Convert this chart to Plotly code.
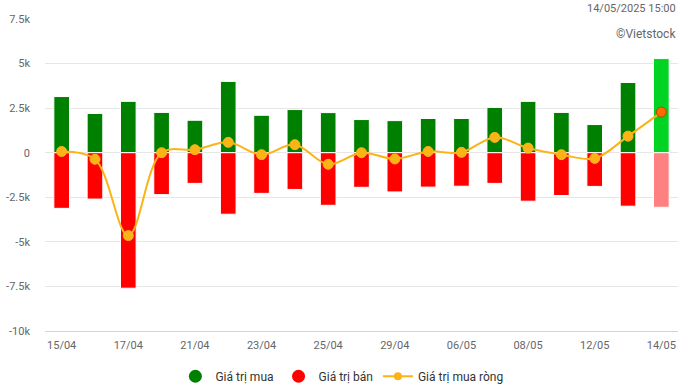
import plotly.graph_objects as go

dates = ["15/04", "16/04", "17/04", "18/04", "21/04", "22/04", "23/04", "24/04", "25/04",
         "28/04", "29/04", "05/05", "06/05", "07/05", "08/05", "09/05", "12/05", "13/05", "14/05"]
buy = [3150, 2200, 2880, 2260, 1820, 4000, 2100, 2420, 2250,
       1860, 1800, 1920, 1920, 2540, 2880, 2260, 1580, 3940, 5280]
sell = [-3120, -2600, -7600, -2350, -1720, -3450, -2280, -2060, -2950,
        -1940, -2200, -1930, -1880, -1720, -2720, -2400, -1890, -3000, -3060]
net = [70, -370, -4650, 0, 170, 580, -110, 450, -650,
       0, -350, 70, 20, 860, 260, -110, -320, 930, 2280]
ytick_vals = [7500, 5000, 2500, 0, -2500, -5000, -7500, -10000]
ytick_text = ["7.5k", "5k", "2.5k", "0", "-2.5k", "-5k", "-7.5k", "-10k"]
xtick_labels = dates[::2]

n = len(dates)
buy_colors = ["#008000"] * (n - 1) + ["#00d322"]
sell_colors = ["#ff0000"] * (n - 1) + ["#ff8080"]
net_colors = ["#fbb417"] * (n - 1) + ["#ff6a00"]
net_line_colors = ["#fbb417"] * (n - 1) + ["#b34a00"]

fig = go.Figure()
fig.add_trace(go.Bar(x=dates, y=buy, name="Giá trị mua", marker=dict(color=buy_colors, line=dict(color="white", width=1)),
                     width=0.47, showlegend=False))
fig.add_trace(go.Bar(x=dates, y=sell, name="Giá trị bán", marker=dict(color=sell_colors, line=dict(color="white", width=1)),
                     width=0.47, showlegend=False))
fig.add_trace(go.Scatter(x=dates, y=net, name="Giá trị mua ròng", mode="lines+markers",
                         line=dict(color="#fbb417", width=2, shape="spline", smoothing=1),
                         marker=dict(size=10, color=net_colors, line=dict(color=net_line_colors, width=1)),
                         showlegend=False))
# legend entries
fig.add_trace(go.Scatter(x=[None], y=[None], mode="markers", name="Giá trị mua",
                         marker=dict(size=13, color="#008000")))
fig.add_trace(go.Scatter(x=[None], y=[None], mode="markers", name="Giá trị bán",
                         marker=dict(size=13, color="#ff0000")))
fig.add_trace(go.Scatter(x=[None], y=[None], mode="lines+markers", name="Giá trị mua ròng",
                         line=dict(color="#fbb417", width=2), marker=dict(size=8, color="#fbb417")))

fig.update_layout(
    width=684, height=390,
    margin=dict(l=45, r=6, t=19, b=59, autoexpand=False),
    barmode="relative",
    plot_bgcolor="white", paper_bgcolor="white",
    font=dict(family="Roboto", color="#666666", size=11),
    legend=dict(orientation="h", x=0.469, xanchor="center", y=-0.145, yanchor="middle",
                font=dict(size=12, color="#333333"), itemwidth=30, tracegroupgap=0),
    xaxis=dict(type="category", tickmode="array", tickvals=xtick_labels, ticktext=xtick_labels,
               showgrid=False, showline=True, linecolor="#ccd6eb", linewidth=1,
               ticks="", tickfont=dict(size=11, color="#666666"), ticklabelstandoff=4,
               range=[-0.5, n - 0.5], fixedrange=True),
    yaxis=dict(range=[-10000, 7500], tickmode="array", tickvals=ytick_vals, ticktext=ytick_text,
               showgrid=True, gridcolor="#e6e6e6", gridwidth=1, zeroline=False,
               tickfont=dict(size=11, color="#666666"), ticklabelstandoff=14, showline=False),
    annotations=[
        dict(text="14/05/2025 15:00", xref="paper", yref="paper", x=1, y=1, xanchor="right",
             yanchor="bottom", yshift=2, showarrow=False, font=dict(size=11, color="#666666")),
        dict(text="©Vietstock", xref="paper", yref="paper", x=1, y=1, xanchor="right",
             yanchor="middle", yshift=-15, showarrow=False, font=dict(size=12, color="#666666")),
    ],
)
fig.write_html("out.html", config={"displayModeBar": False},
               post_script="document.body.style.margin='0';document.body.style.overflow='hidden';")
